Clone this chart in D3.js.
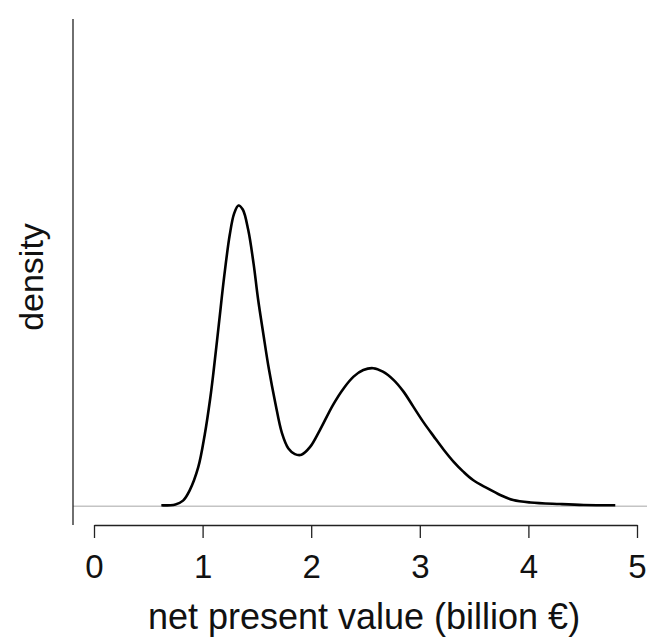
<!DOCTYPE html>
<html>
<head>
<meta charset="utf-8">
<script src="https://cdn.jsdelivr.net/npm/d3@7"></script>
<style>
  body { margin: 0; background: #fff; }
  text { font-family: "Liberation Sans", Arial, sans-serif; fill: #111; }
</style>
</head>
<body>
<div id="chart"></div>
<script>
// density curve (x in billion €, y in density units)
var npv = [0.62, 0.75, 0.82, 0.88, 0.96, 1.02, 1.07, 1.10, 1.15, 1.20, 1.25, 1.29, 1.33,
  1.37, 1.42, 1.47, 1.51, 1.56, 1.61, 1.67, 1.73, 1.79, 1.85, 1.91, 1.99, 2.08,
  2.20, 2.30, 2.39, 2.48, 2.57, 2.66, 2.76, 2.85, 2.94, 3.03, 3.13, 3.22, 3.31, 3.40,
  3.49, 3.62, 3.74, 3.86, 4.02, 4.29, 4.51, 4.80]
var density = [0.003, 0.006, 0.018, 0.050, 0.125, 0.230, 0.345, 0.429, 0.584, 0.739, 0.869, 0.937, 0.963,
  0.950, 0.885, 0.775, 0.665, 0.550, 0.440, 0.330, 0.235, 0.185, 0.167, 0.165, 0.190, 0.244,
  0.324, 0.378, 0.415, 0.436, 0.442, 0.431, 0.404, 0.367, 0.319, 0.271, 0.223, 0.181, 0.143, 0.111,
  0.084, 0.058, 0.036, 0.020, 0.012, 0.007, 0.004, 0.003]
var xTicks = [0, 1, 2, 3, 4, 5]

var width = 647, height = 640

var svg = d3.select("#chart").append("svg")
    .attr("width", width)
    .attr("height", height)

var x = d3.scaleLinear().domain([0, 5]).range([94, 637])
var y = d3.scaleLinear().domain([-0.06, 1.56]).range([525, 19])

var pts = npv.map(function(d, i) { return [d, density[i]] })

// baseline at density 0
svg.append("line")
    .attr("x1", 73).attr("x2", width)
    .attr("y1", y(0)).attr("y2", y(0))
    .attr("stroke", "#c4c4c4")
    .attr("stroke-width", 1.5)

// y axis, no ticks
svg.append("line")
    .attr("x1", 73).attr("x2", 73)
    .attr("y1", y.range()[1]).attr("y2", y.range()[0])
    .attr("stroke", "#222")
    .attr("stroke-width", 1.3)

var xAxis = d3.axisBottom(x)
    .tickValues(xTicks)
    .tickSize(13)
    .tickSizeOuter(0)
    .tickPadding(17)
    .tickFormat(d3.format("d"))

var gx = svg.append("g")
    .attr("transform", "translate(0,525)")
    .call(xAxis)
gx.selectAll("path, line").attr("stroke", "#222").attr("stroke-width", 1.3)
gx.selectAll("text")
    .style("font-size", "33px")
    .style("font-family", "Liberation Sans, Arial, sans-serif")
    .attr("fill", "#111")

svg.append("path")
    .datum(pts)
    .attr("fill", "none")
    .attr("stroke", "#000")
    .attr("stroke-width", 2.6)
    .attr("stroke-linejoin", "round")
    .attr("d", d3.line()
        .x(function(d) { return x(d[0]) })
        .y(function(d) { return y(d[1]) })
        .curve(d3.curveCatmullRom))

svg.append("text")
    .attr("x", 364)
    .attr("y", 629)
    .attr("text-anchor", "middle")
    .style("font-size", "36px")
    .text("net present value (billion €)")

svg.append("text")
    .attr("transform", "translate(43,277) rotate(-90)")
    .attr("text-anchor", "middle")
    .style("font-size", "34px")
    .text("density")
</script>
</body>
</html>
